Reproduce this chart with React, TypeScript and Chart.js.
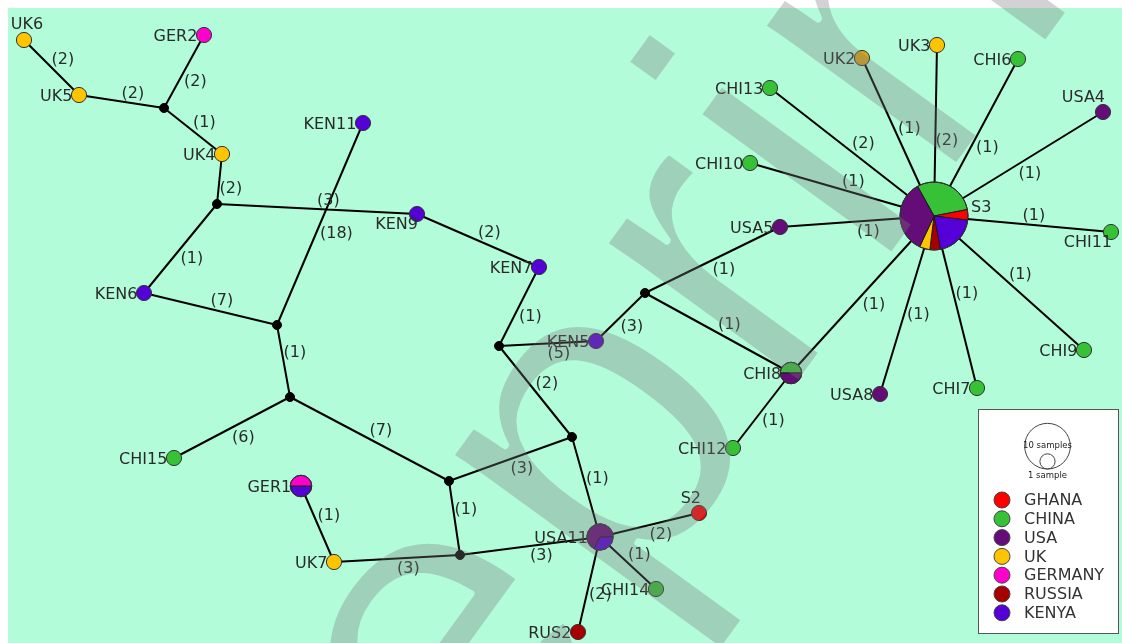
import { useEffect, useRef } from "react";
import { Chart, registerables } from "chart.js";
Chart.register(...registerables);

const W = 1122;
const H = 643;

// ---- network nodes (layout coordinates) ----
const nodeNames = ["UK6","GER2","UK5","m1","UK4","m2","KEN6","KEN11","KEN9","KEN7","m3","m4","CHI15","GER1","UK7","m5","m6","m7","m8","KEN5","USA11","S2","CHI14","RUS2","m9","USA5","CHI8","CHI12","S3","CHI13","UK2","UK3","CHI6","USA4","CHI10","CHI11","CHI9","CHI7","USA8"];
const nodeX = [24,204,79,164,222,217,144,363,417,539,277,290,174,301,334,449,460,572,499,596,600,699,656,578,645,780,791,733,934,770,862,937,1018,1103,750,1111,1084,977,880];
const nodeY = [40,35,95,108,154,204,293,123,214,267,325,397,458,486,562,481,555,437,346,341,537,513,589,632,293,227,373,448,216,88,58,45,59,112,163,232,350,388,394];
const nodeGroup = ["UK","GERMANY","UK","median","UK","median","KENYA","KENYA","KENYA","KENYA","median","median","CHINA","pie","UK","median","median","median","median","KENYA","pie","GHANA","CHINA","RUSSIA","median","USA","pie","CHINA","pie","CHINA","UK","UK","CHINA","USA","CHINA","CHINA","CHINA","CHINA","USA"];
const nodeLabelPlace = ["U","L","L","","L","","L","L","BL","L","","","L","L","L","","","","","L","L","UL","L","L","","L","L","L","R","L","L","L","L","UL","L","BL","L","L","L"];

// ---- mixed haplotypes (sample counts per country) ----
const pieNodes = ["S3","USA11","CHI8","GER1"];
const pieChina = [6,0,1,0];
const pieGhana = [1,0,0,0];
const pieKenya = [4,1,0,1];
const pieRussia = [1,0,0,0];
const pieUk = [1,0,0,0];
const pieUsa = [7,2,1,0];
const pieGermany = [0,0,0,1];
const pieStartDeg = [-119,-2,180,0];

// ---- edges with mutation steps ----
const edgeFrom = ["UK6","UK5","GER2","m1","UK4","m2","m2","KEN11","KEN9","KEN6","m3","m4","m4","m5","m5","UK7","GER1","m6","KEN7","m8","m8","m7","USA11","USA11","USA11","KEN5","m9","m9","CHI8","CHI8","USA5","CHI10","CHI13","UK2","UK3","CHI6","USA4","CHI11","CHI9","CHI7","USA8"];
const edgeTo = ["UK5","m1","m1","UK4","m2","KEN6","KEN9","m3","KEN7","m3","m4","CHI15","m5","m7","m6","m6","UK7","USA11","m8","KEN5","m7","USA11","S2","CHI14","RUS2","m9","USA5","CHI8","S3","CHI12","S3","S3","S3","S3","S3","S3","S3","S3","S3","S3","S3"];
const edgeSteps = [2,2,2,1,2,1,3,18,2,7,1,6,7,3,1,3,1,3,1,5,2,1,2,1,2,3,1,1,1,1,1,1,2,1,2,1,1,1,1,1,1];
const edgeLabelSide = ["a","a","b","a","b","b","a","b","a","a","a","b","a","b","a","b","a","b","b","b","a","a","b","a","b","b","b","a","b","b","b","a","a","a","b","b","b","a","a","a","b"];

const legendCountries = ["GHANA","CHINA","USA","UK","GERMANY","RUSSIA","KENYA"];

const countryColor: Record<string, string> = {
  GHANA: "#ff0000",
  CHINA: "#37c137",
  USA: "#640c78",
  UK: "#ffc400",
  GERMANY: "#ff00cc",
  RUSSIA: "#a80000",
  KENYA: "#5600d8",
};
const colorOverride: Record<string, string> = { UK2: "#d8a61a" };

const UNIT_R = 7.6;
const LABEL_FONT = '16px "DejaVu Sans"';
const TEXT_COLOR = "#2a2a2a";

function idx(name: string) {
  return nodeNames.indexOf(name);
}

function pieCount(i: number) {
  return pieChina[i] + pieGhana[i] + pieKenya[i] + pieRussia[i] + pieUk[i] + pieUsa[i] + pieGermany[i];
}

function nodeRadius(name: string) {
  const pi = pieNodes.indexOf(name);
  if (pi >= 0) return UNIT_R * Math.sqrt(pieCount(pi));
  if (nodeGroup[idx(name)] === "median") return 4.5;
  return UNIT_R;
}

export default function App() {
  const ref = useRef<HTMLCanvasElement | null>(null);

  useEffect(() => {
    const canvas = ref.current;
    if (!canvas) return;

    const edgeData: any[] = [];
    edgeFrom.forEach((f, k) => {
      const a = idx(f);
      const b = idx(edgeTo[k]);
      edgeData.push({ x: nodeX[a], y: nodeY[a] });
      edgeData.push({ x: nodeX[b], y: nodeY[b] });
      edgeData.push({ x: nodeX[b], y: null });
    });

    const singleIdx = nodeNames.map((_, i) => i).filter((i) => nodeGroup[i] !== "median" && nodeGroup[i] !== "pie");
    const medianIdx = nodeNames.map((_, i) => i).filter((i) => nodeGroup[i] === "median");

    const bgPlugin = {
      id: "bg",
      beforeDraw(chart: any) {
        const ctx = chart.ctx;
        ctx.save();
        ctx.fillStyle = "#ffffff";
        ctx.fillRect(0, 0, W, H);
        ctx.fillStyle = "#b2fcda";
        ctx.fillRect(8, 8, W - 8, H - 8);
        ctx.restore();
      },
    };

    const overlayPlugin = {
      id: "overlay",
      afterDatasetsDraw(chart: any) {
        const ctx = chart.ctx;
        const xs = chart.scales.x;
        const ys = chart.scales.y;
        const px = (v: number) => xs.getPixelForValue(v);
        const py = (v: number) => ys.getPixelForValue(v);
        ctx.save();

        // pies
        pieNodes.forEach((name, p) => {
          const i = idx(name);
          const cx = px(nodeX[i]);
          const cy = py(nodeY[i]);
          const r = nodeRadius(name);
          const parts: [number, string][] = [
            [pieChina[p], "CHINA"],
            [pieGhana[p], "GHANA"],
            [pieKenya[p], "KENYA"],
            [pieRussia[p], "RUSSIA"],
            [pieUk[p], "UK"],
            [pieUsa[p], "USA"],
            [pieGermany[p], "GERMANY"],
          ];
          const total = pieCount(p);
          let ang = (pieStartDeg[p] * Math.PI) / 180;
          ctx.lineWidth = 1;
          ctx.strokeStyle = "#1a1a1a";
          parts.forEach(([n, c]) => {
            if (!n) return;
            const a2 = ang + (n / total) * Math.PI * 2;
            ctx.beginPath();
            ctx.moveTo(cx, cy);
            ctx.arc(cx, cy, r, ang, a2);
            ctx.closePath();
            ctx.fillStyle = countryColor[c];
            ctx.fill();
            ctx.stroke();
            ang = a2;
          });
          ctx.beginPath();
          ctx.arc(cx, cy, r, 0, Math.PI * 2);
          ctx.strokeStyle = "#333";
          ctx.stroke();
        });

        // node labels
        ctx.font = LABEL_FONT;
        ctx.fillStyle = TEXT_COLOR;
        ctx.textBaseline = "middle";
        nodeNames.forEach((name, i) => {
          const place = nodeLabelPlace[i];
          if (!place) return;
          const x = px(nodeX[i]);
          const y = py(nodeY[i]);
          const r = nodeRadius(name);
          let tx = x;
          let ty = y;
          if (place === "L") {
            ctx.textAlign = "right";
            tx = x - r + 1;
            ty = y + 2;
          } else if (place === "UL") {
            ctx.textAlign = "right";
            tx = x + 2;
            ty = y - 14;
          } else if (place === "BL") {
            ctx.textAlign = "right";
            tx = x + 1;
            ty = y + 11;
          } else if (place === "U") {
            ctx.textAlign = "center";
            tx = x + 3;
            ty = y - 15;
          } else if (place === "R") {
            ctx.textAlign = "left";
            tx = x + r + 3;
            ty = y - 8;
          }
          ctx.fillText(name, tx, ty);
        });

        // edge labels
        ctx.textAlign = "left";
        edgeFrom.forEach((f, k) => {
          const a = idx(f);
          const b = idx(edgeTo[k]);
          const mx = (px(nodeX[a]) + px(nodeX[b])) / 2;
          const my = (py(nodeY[a]) + py(nodeY[b])) / 2;
          const ty = edgeLabelSide[k] === "a" ? my - 8 : my + 10;
          ctx.fillText("(" + edgeSteps[k] + ")", mx, ty);
        });

        // legend
        const lx = 978.5, ly = 409.5, lw = 140, lh = 224;
        ctx.fillStyle = "#ffffff";
        ctx.fillRect(lx, ly, lw, lh);
        ctx.strokeStyle = "#555";
        ctx.lineWidth = 1;
        ctx.strokeRect(lx, ly, lw, lh);
        const bigR = UNIT_R * Math.sqrt(10) * 0.95;
        const ccx = 1047.5;
        const bottom = 469;
        ctx.strokeStyle = "#444";
        ctx.beginPath();
        ctx.arc(ccx, bottom - bigR, bigR, 0, Math.PI * 2);
        ctx.stroke();
        ctx.beginPath();
        ctx.arc(ccx, bottom - UNIT_R, UNIT_R, 0, Math.PI * 2);
        ctx.stroke();
        ctx.fillStyle = "#222";
        ctx.textAlign = "center";
        ctx.font = '8.5px "DejaVu Sans"';
        ctx.fillText("10 samples", ccx, bottom - bigR);
        ctx.fillText("1 sample", ccx, 476);
        ctx.font = LABEL_FONT;
        ctx.textAlign = "left";
        legendCountries.forEach((c, k) => {
          const yy = 500 + k * 18.8;
          ctx.beginPath();
          ctx.arc(1002, yy, 8, 0, Math.PI * 2);
          ctx.fillStyle = countryColor[c];
          ctx.fill();
          ctx.strokeStyle = "#444";
          ctx.lineWidth = 1;
          ctx.stroke();
          ctx.fillStyle = "#333";
          ctx.fillText(c, 1024, yy + 1);
        });
        ctx.restore();
      },
      afterDraw(chart: any) {
        // watermark overlay
        const ctx = chart.ctx;
        const off = document.createElement("canvas");
        off.width = W;
        off.height = H;
        const o = off.getContext("2d")! as any;
        o.font = '455px "Liberation Sans"';
        const ls = 8;
        o.letterSpacing = ls + "px";
        const pre = o.measureText("Prepr").width;
        const iw = o.measureText("i").width;
        const hasLs = o.letterSpacing === ls + "px";
        o.translate(904, 240);
        o.rotate((-54 * Math.PI) / 180);
        o.fillStyle = "#797979";
        const startX = -(pre + (hasLs ? iw - ls : iw) / 2);
        o.fillText("Preprint", startX, 0);
        o.globalCompositeOperation = "destination-out";
        o.lineWidth = 7;
        o.lineJoin = "round";
        o.strokeStyle = "#000";
        o.strokeText("Preprint", startX, 0);
        ctx.save();
        ctx.globalAlpha = 0.33;
        ctx.drawImage(off, 0, 0);
        ctx.restore();
      },
    };

    const chart = new Chart(canvas, {
      type: "scatter",
      data: {
        datasets: [
          {
            label: "haplotypes",
            data: singleIdx.map((i) => ({ x: nodeX[i], y: nodeY[i] })),
            pointRadius: UNIT_R,
            pointBackgroundColor: singleIdx.map((i) => colorOverride[nodeNames[i]] || countryColor[nodeGroup[i]]),
            pointBorderColor: "#333",
            pointBorderWidth: 1,
            order: 1,
          } as any,
          {
            label: "median vectors",
            data: medianIdx.map((i) => ({ x: nodeX[i], y: nodeY[i] })),
            pointRadius: 4.5,
            pointBackgroundColor: "#000",
            pointBorderColor: "#000",
            pointBorderWidth: 1,
            order: 2,
          } as any,
          {
            type: "line",
            label: "edges",
            data: edgeData,
            showLine: true,
            spanGaps: false,
            borderColor: "#000",
            borderWidth: 2,
            pointRadius: 0,
            tension: 0,
            order: 3,
          } as any,
        ],
      },
      options: {
        animation: false,
        responsive: false,
        maintainAspectRatio: false,
        events: [],
        layout: { padding: 0, autoPadding: false },
        scales: {
          x: { type: "linear", min: 0, max: W, display: false },
          y: { type: "linear", min: 0, max: H, reverse: true, display: false },
        },
        plugins: { legend: { display: false }, tooltip: { enabled: false } },
      },
      plugins: [bgPlugin, overlayPlugin],
    });

    return () => chart.destroy();
  }, []);

  return (
    <div style={{ position: "fixed", left: 0, top: 0, width: W, height: H }}>
      <canvas ref={ref} width={W} height={H} style={{ display: "block", width: W, height: H }} />
    </div>
  );
}
